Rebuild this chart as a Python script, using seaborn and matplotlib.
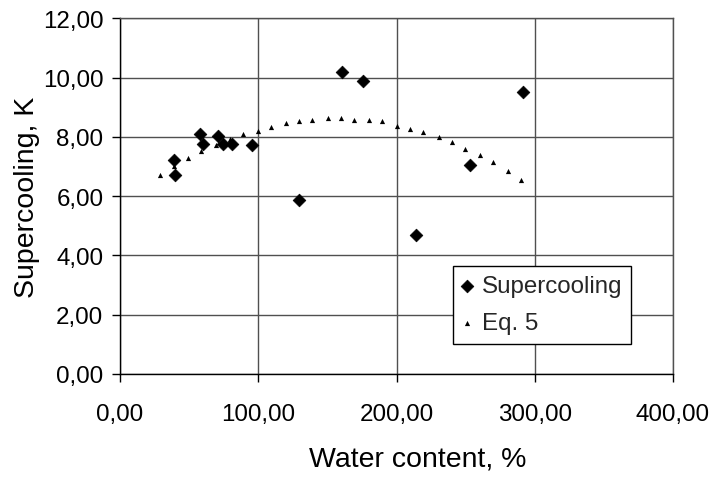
import matplotlib
matplotlib.use("Agg")
import matplotlib.pyplot as plt
from matplotlib.ticker import FuncFormatter, MultipleLocator
import seaborn as sns
import pandas as pd

# Measured supercooling
x_sc = [38.8, 40.0, 57.6, 60.1, 70.9, 74.6, 81.1, 95.6, 129.7, 160.9, 175.9, 213.8, 253.2, 291.4]
y_sc = [7.23, 6.73, 8.08, 7.77, 8.02, 7.77, 7.77, 7.71, 5.86, 10.19, 9.88, 4.68, 7.04, 9.51]

# Eq. 5 curve points
x_eq = [29.1, 38.8, 49.4, 58.9, 69.7, 79.3, 88.8, 100.0, 109.4, 120.2, 129.7, 139.1, 150.2, 159.7,
        169.1, 180.0, 189.4, 200.3, 209.9, 219.4, 230.5, 239.9, 249.3, 260.2, 269.6, 280.5, 289.9]
y_eq = [6.73, 7.03, 7.29, 7.53, 7.71, 7.92, 8.08, 8.21, 8.32, 8.46, 8.53, 8.58, 8.64, 8.64,
        8.58, 8.58, 8.52, 8.38, 8.27, 8.15, 8.01, 7.84, 7.59, 7.40, 7.16, 6.84, 6.54]

sns.set_style("white")
plt.rcParams['font.family'] = ['Liberation Sans', 'DejaVu Sans']

fig = plt.figure(figsize=(7.14, 4.81), dpi=100)
ax = fig.add_axes([120/714, 1 - 375/481, (673 - 120)/714, (375 - 19.3)/481])

df_sc = pd.DataFrame({"x": x_sc, "y": y_sc})
df_eq = pd.DataFrame({"x": x_eq, "y": y_eq})

sns.scatterplot(data=df_eq, x="x", y="y", ax=ax, marker="^", s=14, color="black",
                linewidth=0, label="Eq. 5", zorder=3)
sns.scatterplot(data=df_sc, x="x", y="y", ax=ax, marker="D", s=42, color="black",
                edgecolor="black", linewidth=0.5, label="Supercooling", zorder=4)

ax.set_xlim(0, 400)
ax.set_ylim(0, 12)
ax.xaxis.set_major_locator(MultipleLocator(100))
ax.yaxis.set_major_locator(MultipleLocator(2))
fmt = FuncFormatter(lambda v, p: f"{v:.2f}".replace(".", ","))
ax.xaxis.set_major_formatter(fmt)
ax.yaxis.set_major_formatter(fmt)

ax.grid(True, color="#505050", linewidth=1.0)
ax.set_axisbelow(True)
for s in ["top", "right"]:
    ax.spines[s].set_color("#505050")
    ax.spines[s].set_linewidth(1.0)
for s in ["left", "bottom"]:
    ax.spines[s].set_color("black")
    ax.spines[s].set_linewidth(1.0)

ax.tick_params(axis="both", direction="out", length=6, width=1, color="black",
               labelsize=17.4, labelcolor="black")
ax.tick_params(axis="x", pad=15)
ax.tick_params(axis="y", pad=6)
ax.tick_params(top=False, right=False, bottom=True, left=True)

ax.set_xlabel("Water content, %", fontsize=20.5, color="black")
ax.set_ylabel("Supercooling, K", fontsize=20.5, color="black")
ax.xaxis.set_label_coords((418 - 120) / 553, (375 - 447) / 355.7)
ax.yaxis.set_label_coords((40 - 120) / 553, 0.5)

handles, labels = ax.get_legend_handles_labels()
order = [1, 0]
leg = ax.legend([handles[i] for i in order], [labels[i] for i in order],
                loc="upper left", bbox_to_anchor=((453 - 120) / 553, (375 - 267.3) / 355.7),
                borderaxespad=0, frameon=True, fancybox=False, edgecolor="black",
                framealpha=1, fontsize=17.4, handletextpad=0.4, handlelength=0.4,
                borderpad=0.38, labelspacing=0.62)
leg.get_frame().set_linewidth(1.0)

fig.savefig("out.png", dpi=100)
